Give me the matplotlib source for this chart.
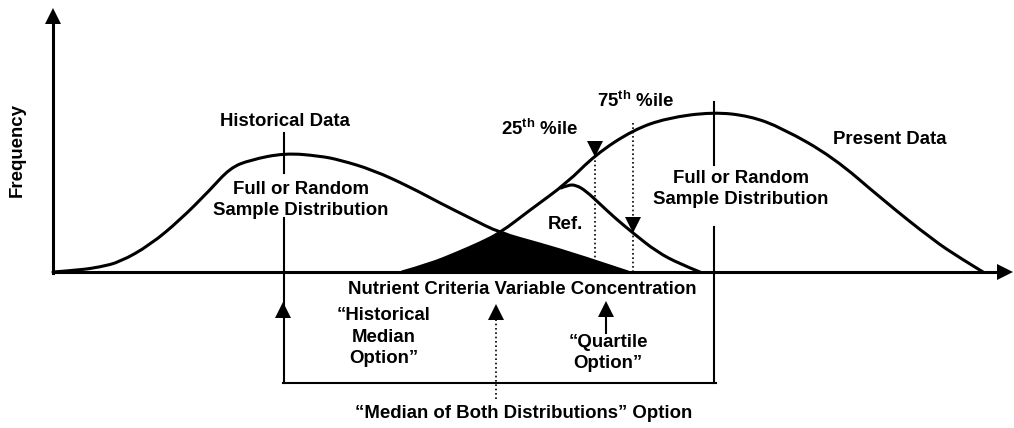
import numpy as np
import matplotlib
matplotlib.use("Agg")
import matplotlib.pyplot as plt
from matplotlib.path import Path
from matplotlib.patches import PathPatch

plt.rcParams['font.family'] = ['Liberation Sans', 'DejaVu Sans']
plt.rcParams['mathtext.fontset'] = 'custom'
plt.rcParams['mathtext.rm'] = 'Liberation Sans:bold'
plt.rcParams['mathtext.it'] = 'Liberation Sans:bold'
plt.rcParams['mathtext.bf'] = 'Liberation Sans:bold'

# Curves (x, y in image pixels, y grows downward)
historical_x = [53, 80, 100, 120, 150, 180, 210, 230, 250, 285, 320, 340, 373, 410, 440, 470, 500, 540, 580, 628]
historical_y = [272, 270, 267, 262, 245, 220, 190, 168, 160, 153, 156, 160, 170, 187, 203, 218, 233, 244, 256, 272]

present_x = [402, 430, 457, 480, 500, 530, 567, 595, 633, 667, 713, 750, 782, 833, 883, 933, 960, 983]
present_y = [272, 264, 253, 243, 233, 210, 183, 155, 130, 118, 112, 116, 128, 157, 200, 240, 258, 272]

ref_x = [561, 568, 576, 586, 600, 615, 633, 657, 680, 700]
ref_y = [188, 185, 185, 191, 204, 218, 233, 252, 264, 272]

BASE_Y = 272
AXIS_X = 53
overlap_x = 500

# medians / percentiles
hist_median = 284
pres_median = 714
p25_x, p25_tip = 595, 156
p75_x, p75_tip, p75_top = 633, 232, 123
bracket_y = 383

# option arrows: x, tip y, tail y
hist_opt = (283, 303, 383)
both_opt = (496, 305, 400)
quart_opt = (606, 302, 333)

FS = 13.4
LS = 1.32


def smooth_path(xs, ys):
    # quadratic B-spline style path through the midpoints of the read points
    pts = list(zip(xs, ys))
    verts = [pts[0]]
    codes = [Path.MOVETO]
    for i in range(1, len(pts) - 1):
        mid = ((pts[i][0] + pts[i + 1][0]) / 2, (pts[i][1] + pts[i + 1][1]) / 2)
        if i == len(pts) - 2:
            mid = pts[-1]
        verts += [pts[i], mid]
        codes += [Path.CURVE3, Path.CURVE3]
    return Path(verts, codes)


fig = plt.figure(figsize=(10.14, 4.28), dpi=100)
ax = fig.add_axes([0, 0, 1, 1])
ax.set_xlim(0, 1014)
ax.set_ylim(428, 0)
ax.axis('off')

# overlap region (black)
hx = np.array(historical_x)
hy = np.array(historical_y)
px = np.array(present_x)
py = np.array(present_y)
fill_x = list(px[px <= overlap_x]) + list(hx[hx >= overlap_x])
fill_y = list(py[px <= overlap_x]) + list(hy[hx >= overlap_x])
ax.fill(fill_x, fill_y, color='black', lw=0)

for cx, cy in [(historical_x, historical_y), (present_x, present_y), (ref_x, ref_y)]:
    ax.add_patch(PathPatch(smooth_path(cx, cy), facecolor='none', edgecolor='black',
                           lw=2.2, joinstyle='round', capstyle='round'))

# axes with arrows
ax.plot([AXIS_X, AXIS_X], [BASE_Y + 1, 22], color='black', lw=2.2)
ax.plot([AXIS_X, 998], [BASE_Y, BASE_Y], color='black', lw=2.2)
ax.plot([AXIS_X], [8 + 8], marker='^', ms=11.5, color='black', mew=0)
ax.plot([1013 - 8], [BASE_Y], marker='>', ms=11.5, color='black', mew=0)

# median ticks
ax.plot([hist_median, hist_median], [133, 173], color='black', lw=1.5)
ax.plot([hist_median, hist_median], [218, bracket_y], color='black', lw=1.5)
ax.plot([pres_median, pres_median], [102, 165], color='black', lw=1.5)
ax.plot([pres_median, pres_median], [227, bracket_y], color='black', lw=1.5)
ax.plot([hist_median - 1, pres_median + 2], [bracket_y, bracket_y], color='black', lw=1.5)

dot = (0, (1, 1.6))
# percentile markers
ax.plot([p25_x, p25_x], [p25_tip, BASE_Y], color='black', lw=1.2, ls=dot)
ax.plot([p25_x], [p25_tip - 7], marker='v', ms=11, color='black', mew=0)
ax.plot([p75_x, p75_x], [p75_top, BASE_Y], color='black', lw=1.2, ls=dot)
ax.plot([p75_x], [p75_tip - 7], marker='v', ms=11, color='black', mew=0)

# option arrows
ax.plot([hist_opt[0]], [hist_opt[1] + 7], marker='^', ms=11, color='black', mew=0)
ax.plot([both_opt[0], both_opt[0]], [both_opt[1] + 10, both_opt[2]], color='black', lw=1.2, ls=dot)
ax.plot([both_opt[0]], [both_opt[1] + 7], marker='^', ms=11, color='black', mew=0)
ax.plot([quart_opt[0], quart_opt[0]], [quart_opt[1] + 10, quart_opt[2]], color='black', lw=1.5)
ax.plot([quart_opt[0]], [quart_opt[1] + 7], marker='^', ms=11, color='black', mew=0)

tk = dict(fontsize=FS, fontweight='bold', ha='center', va='center', color='black')
ax.text(17, 150, 'Frequency', rotation=90, **tk)
ax.text(285, 121, 'Historical Data', **tk)
ax.text(301, 200, 'Full or Random\nSample Distribution', linespacing=LS, **tk)
ax.text(741, 189, 'Full or Random\nSample Distribution', linespacing=LS, **tk)
ax.text(890, 139, 'Present Data', **tk)
ax.text(540, 129, r'25$^{\mathrm{th}}$ %ile', **tk)
ax.text(636, 101, r'75$^{\mathrm{th}}$ %ile', **tk)
ax.text(565, 224, 'Ref.', **tk)
ax.text(522, 290, 'Nutrient Criteria Variable Concentration', **tk)
ax.text(384, 337, '\u201cHistorical\nMedian\nOption\u201d', linespacing=LS, **tk)
ax.text(608, 353, '\u201cQuartile\nOption\u201d', linespacing=LS, **tk)
ax.text(524, 413, '\u201cMedian of Both Distributions\u201d Option', **tk)

fig.savefig('out.png', dpi=100, facecolor='white')
